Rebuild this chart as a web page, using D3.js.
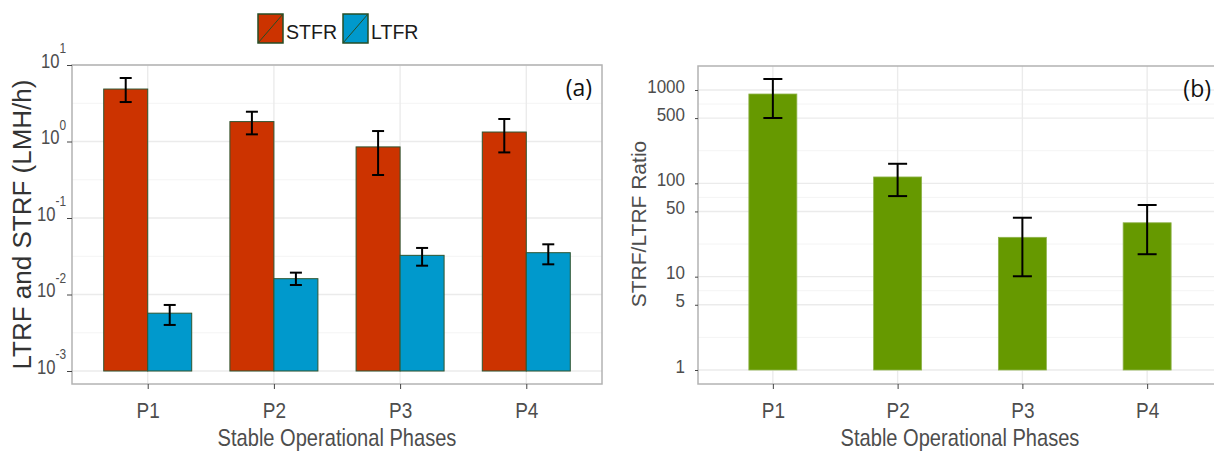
<!DOCTYPE html>
<html>
<head>
<meta charset="utf-8">
<script src="https://cdn.jsdelivr.net/npm/d3@7"></script>
<style>
  body { margin: 0; background: #fff; }
  svg text { font-family: "Liberation Sans", Arial, sans-serif; }
</style>
</head>
<body>
<svg id="chart" width="1214" height="452"></svg>
<script>
var phases = ['P1', 'P2', 'P3', 'P4'];
var stfr = [4.85, 1.82, 0.85, 1.33];
var stfrLo = [3.28, 1.24, 0.365, 0.72];
var stfrHi = [6.76, 2.45, 1.37, 1.97];
var ltfr = [0.0057, 0.0161, 0.0325, 0.0352];
var ltfrLo = [0.0040, 0.0133, 0.0238, 0.0248];
var ltfrHi = [0.0073, 0.0193, 0.0406, 0.0453];
var ratio = [906, 117, 26.4, 37.8];
var ratioLo = [501, 73, 10.1, 17.4];
var ratioHi = [1312, 162, 42.8, 58.6];
var fluxTicks = [1e-3, 1e-2, 1e-1, 1, 10];
var fluxExp = ['-3', '-2', '-1', '0', '1'];
var ratioTicks = [1, 5, 10, 50, 100, 500, 1000];
var seriesNames = ['STFR', 'LTFR'];
var colors = { STFR: '#cc3300', LTFR: '#0099cc', ratio: '#669900' };

var svg = d3.select('#chart');
var gridMajor = '#ebebeb', gridMinor = '#f4f4f4', frameCol = '#b3b3b3';

// the original picture is squeezed sideways, so text is drawn taller than wide
function stretch(sel, sx, sy) {
	sel.each(function () {
		var t = d3.select(this);
		var x = +t.attr('x') || 0, y = +t.attr('y') || 0;
		t.attr('x', 0).attr('y', 0)
			.attr('transform', 'translate(' + x + ',' + y + ') scale(' + sx + ',' + sy + ')');
	});
}

function label(g, x, y, size, sx, sy, txt) {
	return g.append('text')
		.attr('transform', 'translate(' + x + ',' + y + ') scale(' + sx + ',' + sy + ')')
		.attr('font-size', size).text(txt);
}

// ---------- panel (a) ----------
var a = { left: 72, right: 602, top: 65, bottom: 384 };
var xA = d3.scalePoint().domain(phases).range([a.left, a.right]).padding(0.6);
var yA = d3.scaleLog().domain([1e-3, 10]).range([371, 65]);
var halfW = 44;

var gA = svg.append('g');
gA.append('rect').attr('x', a.left).attr('y', a.top).attr('width', a.right - a.left)
	.attr('height', a.bottom - a.top).attr('fill', '#fff');

// minor grid at half decades
for (var i = 0; i < fluxTicks.length - 1; i++) {
	var m = Math.sqrt(fluxTicks[i] * fluxTicks[i + 1]);
	gA.append('line').attr('x1', a.left).attr('x2', a.right)
		.attr('y1', yA(m)).attr('y2', yA(m)).attr('stroke', gridMinor).attr('stroke-width', 1);
}
gA.selectAll('.hgrid').data(fluxTicks).enter().append('line')
	.attr('x1', a.left).attr('x2', a.right)
	.attr('y1', function (d) { return yA(d); }).attr('y2', function (d) { return yA(d); })
	.attr('stroke', gridMajor).attr('stroke-width', 1.4);
gA.selectAll('.vgrid').data(phases).enter().append('line')
	.attr('x1', function (d) { return xA(d); }).attr('x2', function (d) { return xA(d); })
	.attr('y1', a.top).attr('y2', a.bottom)
	.attr('stroke', gridMajor).attr('stroke-width', 1.4);

var series = [
	{ name: 'STFR', val: stfr, lo: stfrLo, hi: stfrHi, off: -halfW },
	{ name: 'LTFR', val: ltfr, lo: ltfrLo, hi: ltfrHi, off: 0 }
];
series.forEach(function (s) {
	gA.selectAll('.bar-' + s.name).data(phases).enter().append('rect')
		.attr('x', function (d) { return xA(d) + s.off; })
		.attr('width', halfW)
		.attr('y', function (d, i) { return yA(s.val[i]); })
		.attr('height', function (d, i) { return yA(1e-3) - yA(s.val[i]); })
		.attr('fill', colors[s.name])
		.attr('stroke', '#2f5530').attr('stroke-width', 1);
});
series.forEach(function (s) {
	var eb = gA.selectAll('.eb-' + s.name).data(phases).enter().append('g')
		.attr('stroke', '#000').attr('stroke-width', 2);
	var cx = function (d) { return xA(d) + s.off + halfW / 2; };
	eb.append('line').attr('x1', cx).attr('x2', cx)
		.attr('y1', function (d, i) { return yA(s.hi[i]); })
		.attr('y2', function (d, i) { return yA(s.lo[i]); });
	['hi', 'lo'].forEach(function (k) {
		eb.append('line')
			.attr('x1', function (d) { return cx(d) - 6; }).attr('x2', function (d) { return cx(d) + 6; })
			.attr('y1', function (d, i) { return yA(s[k][i]); })
			.attr('y2', function (d, i) { return yA(s[k][i]); });
	});
});

gA.append('rect').attr('x', a.left).attr('y', a.top).attr('width', a.right - a.left)
	.attr('height', a.bottom - a.top).attr('fill', 'none').attr('stroke', frameCol).attr('stroke-width', 1.5);

var axYA = gA.append('g').attr('transform', 'translate(' + a.left + ',0)')
	.call(d3.axisLeft(yA).tickValues(fluxTicks).tickSize(5).tickFormat(function () { return '10'; }));
axYA.select('.domain').remove();
axYA.selectAll('.tick line').attr('stroke', '#444');
axYA.selectAll('.tick text').each(function (d, i) {
	var t = d3.select(this);
	t.text('').attr('font-size', 17.5).attr('fill', '#4d4d4d').attr('dy', null)
		.attr('transform', 'translate(-6,2) scale(0.95,1.2)').attr('x', 0).attr('y', 0);
	t.append('tspan').text('10');
	t.append('tspan').attr('font-size', 12.5).attr('dy', '-0.95em').text(fluxExp[i]);
});

var axXA = gA.append('g').attr('transform', 'translate(0,' + a.bottom + ')')
	.call(d3.axisBottom(xA).tickSize(5).tickPadding(29));
axXA.select('.domain').remove();
axXA.selectAll('.tick line').attr('stroke', '#444');
axXA.selectAll('.tick text').attr('font-size', 19).attr('fill', '#4d4d4d').attr('dy', 0)
	.call(stretch, 1, 1.2);

label(gA, (a.left + a.right) / 2, 446, 20.5, 0.98, 1.2, 'Stable Operational Phases')
	.attr('text-anchor', 'middle').attr('fill', '#4d4d4d');
gA.append('text').attr('transform', 'translate(31,' + (a.top + a.bottom) / 2 + ') rotate(-90)')
	.attr('text-anchor', 'middle').attr('font-size', 26).attr('fill', '#333').text('LTRF and STRF (LMH/h)');
gA.append('text').attr('x', 592).attr('y', 96).attr('text-anchor', 'end')
	.attr('font-size', 23).attr('fill', '#111').style('font-family', '"Open Sans", sans-serif').text('(a)');

// legend
var leg = svg.append('g');
var legX = [258, 343];
seriesNames.forEach(function (n, i) {
	leg.append('rect').attr('x', legX[i]).attr('y', 14).attr('width', 25).attr('height', 29)
		.attr('fill', colors[n]).attr('stroke', '#264d26').attr('stroke-width', 1.5);
	leg.append('line').attr('x1', legX[i]).attr('y1', 43).attr('x2', legX[i] + 25).attr('y2', 14)
		.attr('stroke', '#264d26').attr('stroke-width', 1);
	label(leg, legX[i] + 28, 39, 19, 1.03, 1.08, n).attr('fill', '#1a1a1a');
});

// ---------- panel (b) ----------
var b = { left: 698, right: 1222, top: 66, bottom: 384 };
var xB = d3.scalePoint().domain(phases).range([b.left, b.right]).padding(0.6);
var yB = d3.scaleLog().domain([1, 1000]).range([370, 90]);
var bw = 48;

var gB = svg.append('g');
gB.append('rect').attr('x', b.left).attr('y', b.top).attr('width', b.right - b.left)
	.attr('height', b.bottom - b.top).attr('fill', '#fff');
for (var j = 0; j < ratioTicks.length - 1; j++) {
	var mm = Math.sqrt(ratioTicks[j] * ratioTicks[j + 1]);
	gB.append('line').attr('x1', b.left).attr('x2', b.right)
		.attr('y1', yB(mm)).attr('y2', yB(mm)).attr('stroke', gridMinor).attr('stroke-width', 1);
}
gB.selectAll('.hgrid').data(ratioTicks).enter().append('line')
	.attr('x1', b.left).attr('x2', b.right)
	.attr('y1', function (d) { return yB(d); }).attr('y2', function (d) { return yB(d); })
	.attr('stroke', gridMajor).attr('stroke-width', 1.4);
gB.selectAll('.vgrid').data(phases).enter().append('line')
	.attr('x1', function (d) { return xB(d); }).attr('x2', function (d) { return xB(d); })
	.attr('y1', b.top).attr('y2', b.bottom)
	.attr('stroke', gridMajor).attr('stroke-width', 1.4);

gB.selectAll('.bar').data(phases).enter().append('rect')
	.attr('x', function (d) { return xB(d) - bw / 2; })
	.attr('width', bw)
	.attr('y', function (d, i) { return yB(ratio[i]); })
	.attr('height', function (d, i) { return yB(1) - yB(ratio[i]); })
	.attr('fill', colors.ratio).attr('stroke', '#8fb34d').attr('stroke-width', 0.8);

var ebB = gB.selectAll('.eb').data(phases).enter().append('g')
	.attr('stroke', '#000').attr('stroke-width', 2);
ebB.append('line').attr('x1', function (d) { return xB(d); }).attr('x2', function (d) { return xB(d); })
	.attr('y1', function (d, i) { return yB(ratioHi[i]); })
	.attr('y2', function (d, i) { return yB(ratioLo[i]); });
[ratioHi, ratioLo].forEach(function (arr) {
	ebB.append('line')
		.attr('x1', function (d) { return xB(d) - 9.5; }).attr('x2', function (d) { return xB(d) + 9.5; })
		.attr('y1', function (d, i) { return yB(arr[i]); })
		.attr('y2', function (d, i) { return yB(arr[i]); });
});

gB.append('rect').attr('x', b.left).attr('y', b.top).attr('width', b.right - b.left)
	.attr('height', b.bottom - b.top).attr('fill', 'none').attr('stroke', frameCol).attr('stroke-width', 1.5);

var axYB = gB.append('g').attr('transform', 'translate(' + b.left + ',0)')
	.call(d3.axisLeft(yB).tickValues(ratioTicks).tickSize(3).tickPadding(10).tickFormat(d3.format('d')));
axYB.select('.domain').remove();
axYB.selectAll('.tick line').attr('stroke', '#444');
axYB.selectAll('.tick text').attr('font-size', 17).attr('fill', '#4d4d4d').attr('dy', 0)
	.attr('y', 2).call(stretch, 1, 1.1);

var axXB = gB.append('g').attr('transform', 'translate(0,' + b.bottom + ')')
	.call(d3.axisBottom(xB).tickSize(5).tickPadding(29));
axXB.select('.domain').remove();
axXB.selectAll('.tick line').attr('stroke', '#444');
axXB.selectAll('.tick text').attr('font-size', 19).attr('fill', '#4d4d4d').attr('dy', 0)
	.call(stretch, 1, 1.2);

label(gB, (b.left + b.right) / 2, 446, 20.5, 0.98, 1.2, 'Stable Operational Phases')
	.attr('text-anchor', 'middle').attr('fill', '#4d4d4d');
gB.append('text').attr('transform', 'translate(646,' + 224 + ') rotate(-90)')
	.attr('text-anchor', 'middle').attr('font-size', 21).attr('fill', '#4d4d4d').text('STRF/LTRF Ratio');
gB.append('text').attr('x', 1211).attr('y', 97).attr('text-anchor', 'end')
	.attr('font-size', 23).attr('fill', '#111').style('font-family', '"Open Sans", sans-serif').text('(b)');
</script>
</body>
</html>
